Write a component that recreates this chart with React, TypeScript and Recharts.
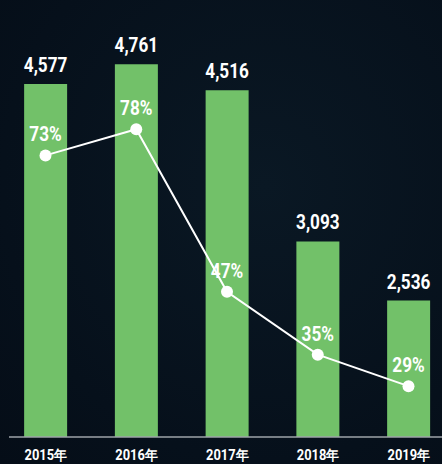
import { ComposedChart, Bar, Line, XAxis, YAxis, LabelList } from "recharts";

const years = ["2015年", "2016年", "2017年", "2018年", "2019年"];
const counts = [4577, 4761, 4516, 3093, 2536];
const rates = [73, 78, 47, 35, 29];

const data = years.map((year, i) => ({ year, count: counts[i], rate: rates[i] }));

const font = "Roboto, 'Liberation Sans', sans-serif";

// no condensed face installed, so squeeze the text horizontally
function Squeezed({ x, y, text, size, sx }: { x: number; y: number; text: string; size: number; sx: number }) {
  return (
    <text
      transform={`translate(${x},${y}) scale(${sx},1)`}
      textAnchor="middle"
      fill="#ffffff"
      fontSize={size}
      fontWeight="bold"
      fontFamily={font}
    >
      {text}
    </text>
  );
}

function CountLabel(props: any) {
  const { x, y, width, value } = props;
  return <Squeezed x={x + width / 2} y={y - 12} text={Number(value).toLocaleString("en-US")} size={20} sx={0.86} />;
}

function RateLabel(props: any) {
  const { x, y, value } = props;
  return <Squeezed x={x} y={y - 14} text={`${value}%`} size={20} sx={0.86} />;
}

function YearTick(props: any) {
  const { x, y, payload } = props;
  return <Squeezed x={x} y={y + 11} text={payload.value} size={14} sx={0.92} />;
}

export default function App() {
  return (
    <div
      style={{
        position: "absolute",
        left: 0,
        top: 0,
        width: 442,
        height: 464,
        overflow: "hidden",
        background: "radial-gradient(ellipse at 60% 40%, #0a1824 0%, #06101b 70%, #050d17 100%)",
      }}
    >
      <ComposedChart width={442} height={464} data={data} margin={{ top: 39, right: 0, bottom: 0, left: 9 }}>
        <XAxis
          dataKey="year"
          height={27}
          padding={{ left: -8.875, right: -11.875 }}
          axisLine={{ stroke: "#9ea3a8", strokeWidth: 1.5 }}
          tickLine={false}
          tickMargin={6}
          tick={<YearTick />}
          interval={0}
        />
        <YAxis yAxisId="count" hide domain={[1250, 5000]} />
        <YAxis yAxisId="rate" orientation="right" hide domain={[19.3, 95.2]} />
        <Bar yAxisId="count" dataKey="count" fill="#72c169" barSize={43} isAnimationActive={false}>
          <LabelList dataKey="count" content={<CountLabel />} />
        </Bar>
        <Line
          yAxisId="rate"
          dataKey="rate"
          stroke="#ffffff"
          strokeWidth={2}
          dot={{ r: 6, fill: "#ffffff", stroke: "none" }}
          isAnimationActive={false}
        >
          <LabelList dataKey="rate" content={<RateLabel />} />
        </Line>
      </ComposedChart>
    </div>
  );
}
